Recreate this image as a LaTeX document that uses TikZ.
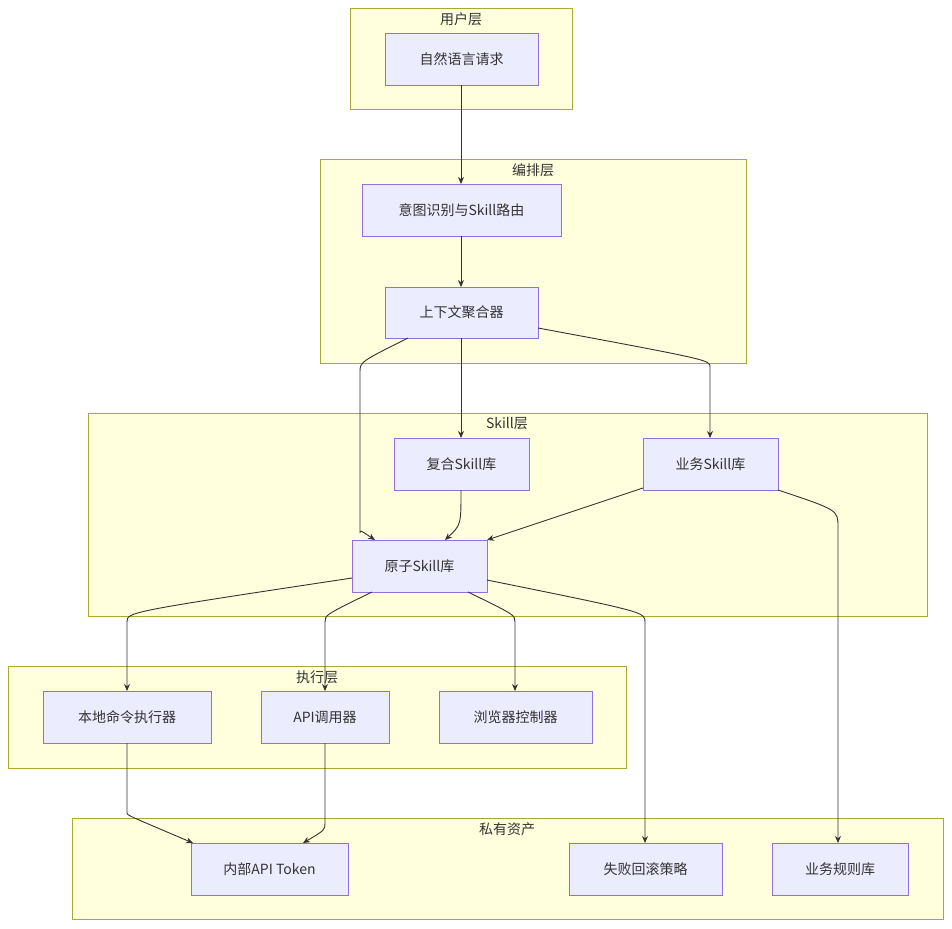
\documentclass[tikz,border=0pt]{standalone}
\usepackage{fontspec}
\setmainfont{Noto Sans CJK SC}
\usetikzlibrary{arrows.meta}
\begin{document}
\begin{tikzpicture}[x=1pt,y=-1pt,
  grp/.style={draw=#1,fill=#1!0,line width=0.8pt},
  cluster/.style={draw={rgb,255:red,170;green,170;blue,51},fill={rgb,255:red,255;green,255;blue,222},line width=0.8pt},
  box/.style={draw={rgb,255:red,147;green,112;blue,219},fill={rgb,255:red,236;green,236;blue,255},line width=0.8pt,inner sep=0pt},
  lbl/.style={font=\fontsize{14}{16}\selectfont,text={rgb,255:red,51;green,51;blue,51}},
  arr/.style={draw={rgb,255:red,51;green,51;blue,51},line width=0.9pt,-{Stealth[length=7pt,width=6pt]},rounded corners=18pt}]
\useasboundingbox (0,0) rectangle (952,928);
\fill[white] (0,0) rectangle (952,928);
% clusters
\draw[cluster] (350,8) rectangle (572,109); \node[lbl] (t1) at (461,19) {用户层};
\draw[cluster] (320,159) rectangle (746,363); \node[lbl] (t2) at (533,170) {编排层};
\draw[cluster] (88,413) rectangle (927,616); \node[lbl] (t3) at (507,424) {Skill层};
\draw[cluster] (8,666) rectangle (626,768); \node[lbl] (t4) at (317,677) {执行层};
\draw[cluster] (72,818) rectangle (943,919); \node[lbl] (t5) at (507,829) {私有资产};
% nodes
\newcommand\mybox[6]{\draw[box] (#2,#3) rectangle (#4,#5); \node[lbl] (#1) at ({(#2+#4)/2},{(#3+#5)/2}) {#6};
  \coordinate (#1-nw) at (#2,#3); \coordinate (#1-se) at (#4,#5);}
\mybox{a}{385}{33}{538}{85}{自然语言请求}
\mybox{b}{362}{184}{561}{236}{意图识别与Skill路由}
\mybox{c}{385}{287}{538}{338}{上下文聚合器}
\mybox{d}{394}{438}{529}{490}{复合Skill库}
\mybox{e}{643}{438}{778}{490}{业务Skill库}
\mybox{f}{352}{540}{487}{592}{原子Skill库}
\mybox{g}{43}{691}{211}{743}{本地命令执行器}
\mybox{h}{261}{691}{389}{743}{API调用器}
\mybox{i}{439}{691}{592}{743}{浏览器控制器}
\mybox{j}{191}{843}{348}{895}{内部API Token}
\mybox{k}{569}{843}{722}{895}{失败回滚策略}
\mybox{l}{772}{843}{908}{895}{业务规则库}
% edges
\draw[arr] (461,85) -- (461,184);
\draw[arr] (461,236) -- (461,287);
\draw[arr] (461,338) -- (461,438);
\draw[arr] (408,338) .. controls (360,362) .. (360,390) -- (360,515) .. controls (360,530) .. (375,540);
\draw[arr] (538,328) .. controls (710,360) .. (710,385) -- (710,438);
\draw[arr] (461,490) .. controls (461,525) .. (445,540);
\draw[arr] (643,488) -- (487,540);
\draw[arr] (352,578) .. controls (127,612) .. (127,640) -- (127,691);
\draw[arr] (372,592) .. controls (325,615) .. (325,640) -- (325,691);
\draw[arr] (468,592) .. controls (515,615) .. (515,640) -- (515,691);
\draw[arr] (487,580) .. controls (645,612) .. (645,640) -- (645,843);
\draw[arr] (778,490) .. controls (838,510) .. (838,545) -- (838,843);
\draw[arr] (127,743) -- (127,795) .. controls (127,815) .. (193,843);
\draw[arr] (325,743) -- (325,805) .. controls (325,830) .. (303,843);
\end{tikzpicture}
\end{document}
